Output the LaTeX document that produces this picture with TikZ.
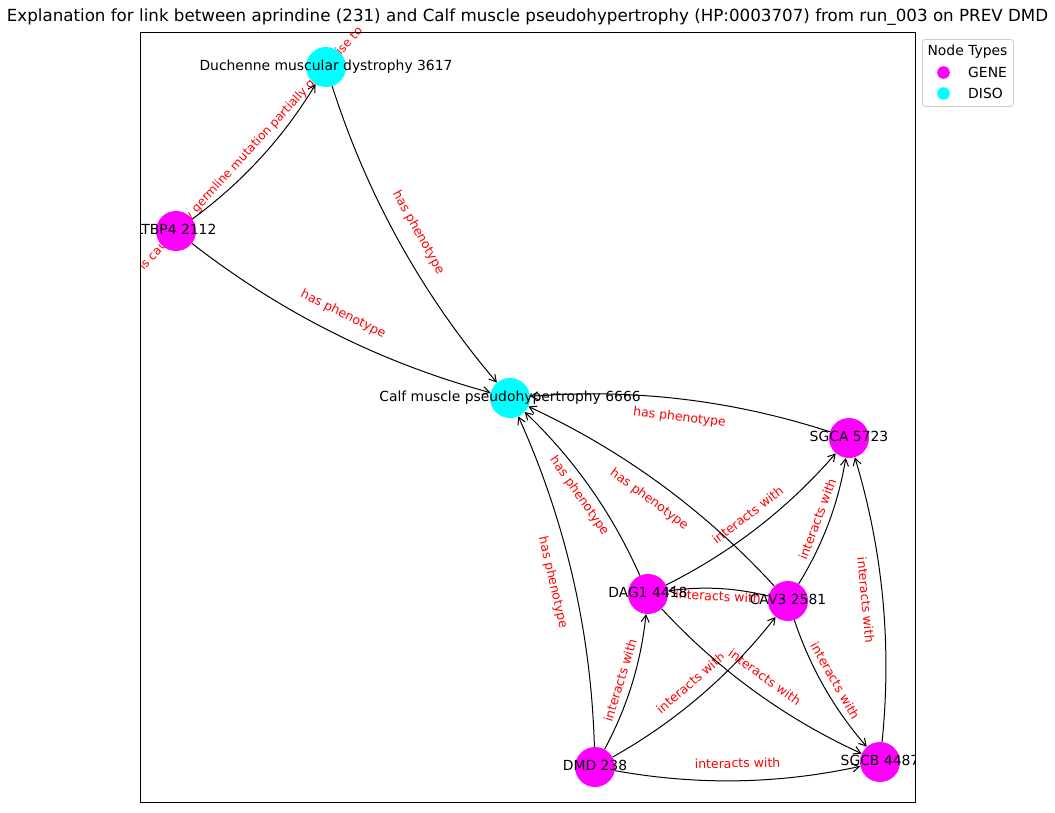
\documentclass[tikz,border=0pt]{standalone}
\usepackage{fontspec}
\setmainfont{DejaVu Sans}
\usetikzlibrary{arrows.meta}
\pgfdeclarelayer{edgelabels}
\pgfdeclarelayer{dots}
\pgfdeclarelayer{names}
\pgfsetlayers{edgelabels,main,dots,names}

\definecolor{genecol}{RGB}{255,0,255}
\definecolor{disocol}{RGB}{0,255,255}
\definecolor{relcol}{RGB}{255,0,0}
\definecolor{legframe}{RGB}{204,204,204}

\begin{document}
\begin{tikzpicture}[x=1pt,y=-1pt,
  vertex/.style={circle,inner sep=0pt,minimum size=40pt},
  gene/.style={vertex,fill=genecol},
  diso/.style={vertex,fill=disocol},
  vname/.style={inner sep=0pt,text height=10.6pt,text depth=3.3pt,
    font=\fontsize{13.9}{16}\selectfont},
  elabel/.style={sloped,fill=white,rounded corners=3pt,inner sep=2.5pt,
    text height=9.5pt,text depth=3pt,text=relcol,
    font=\fontsize{12.5}{15}\selectfont},
  longlabel/.style={elabel,font=\fontsize{12}{15}\selectfont},
  edge/.style={draw=black,line width=1pt,
    -{Straight Barb[length=7pt,width=8pt,line width=1pt]},
    bend right=11.3,looseness=0.87},
  legtext/.style={inner sep=0pt,font=\fontsize{13.9}{16}\selectfont}]

\useasboundingbox (0,0) rectangle (1055,812);

% title
\node[inner sep=0pt,font=\fontsize{16.7}{20}\selectfont] (title) at (527.5,17)
  {Explanation for link between aprindine (231) and Calf muscle pseudohypertrophy (HP:0003707) from run\_003 on PREV DMD};

% graph vertices
\begin{pgfonlayer}{dots}
  \node[diso] (dmd3617) at (326,67) {};
  \node[gene] (ltbp4)   at (176,231) {};
  \node[diso] (calf)    at (510,398) {};
  \node[gene] (sgca)    at (849,438) {};
  \node[gene] (dag1)    at (648,594) {};
  \node[gene] (cav3)    at (788,601) {};
  \node[gene] (dmd)     at (595,767) {};
  \node[gene] (sgcb)    at (880,762) {};
\end{pgfonlayer}

% vertex names, clipped to the plot area
\begin{pgfonlayer}{names}
\begin{scope}
  \clip (140,0) rectangle (915,812);
  \node[vname] (dmd3617-t) at (dmd3617) {Duchenne muscular dystrophy 3617};
  \node[vname] (ltbp4-t)   at (ltbp4)   {LTBP4 2112};
  \node[vname] (calf-t)    at (calf)    {Calf muscle pseudohypertrophy 6666};
  \node[vname] (sgca-t)    at (sgca)    {SGCA 5723};
  \node[vname] (dag1-t)    at (dag1)    {DAG1 4418};
  \node[vname] (cav3-t)    at (cav3)    {CAV3 2581};
  \node[vname] (dmd-t)     at (dmd)     {DMD 238};
  \node[vname] (sgcb-t)    at (sgcb)    {SGCB 4487};
\end{scope}
\end{pgfonlayer}

% the one long relation
\draw[edge] (ltbp4) to (dmd3617);
\begin{pgfonlayer}{edgelabels}
\begin{scope}
  \clip (140,0) rectangle (915,812);
  \path (ltbp4.center) -- node[longlabel]
    {is caused by germline mutation partially giving rise to} (dmd3617.center);
\end{scope}
\end{pgfonlayer}

% remaining edges with their labels at the straight midpoints
\foreach \a/\b/\t in {
  ltbp4/calf/has phenotype,
  dmd3617/calf/has phenotype,
  sgca/calf/has phenotype,
  dag1/calf/has phenotype,
  cav3/calf/has phenotype,
  dmd/calf/has phenotype,
  dag1/sgca/interacts with,
  cav3/sgca/interacts with,
  sgcb/sgca/interacts with,
  cav3/dag1/interacts with,
  dmd/dag1/interacts with,
  dmd/cav3/interacts with,
  dag1/sgcb/interacts with,
  cav3/sgcb/interacts with,
  dmd/sgcb/interacts with}
{
  \draw[edge] (\a) to (\b);
  \begin{pgfonlayer}{edgelabels}
  \begin{scope}
    \clip (140,0) rectangle (915,812);
    \path (\a.center) -- node[elabel] {\t} (\b.center);
  \end{scope}
  \end{pgfonlayer}
}

% plot frame
\draw[line width=1pt] (140,32) rectangle (915,802);

% legend
\node[draw=legframe,fill=white,rounded corners=3pt,line width=0.8pt,
  minimum width=91pt,minimum height=67pt,anchor=north west,inner sep=0pt]
  (legend) at (922,39) {};
\node[legtext] (legtitle) at (967.5,51.5) {Node Types};
\node[circle,fill=genecol,minimum size=12.6pt,inner sep=0pt] (leggene) at (943.5,72.5) {};
\node[circle,fill=disocol,minimum size=12.6pt,inner sep=0pt] (legdiso) at (943.5,93.5) {};
\node[legtext,anchor=west] (leggene-t) at (968,72.5) {GENE};
\node[legtext,anchor=west] (legdiso-t) at (968,93.5) {DISO};

\end{tikzpicture}
\end{document}
